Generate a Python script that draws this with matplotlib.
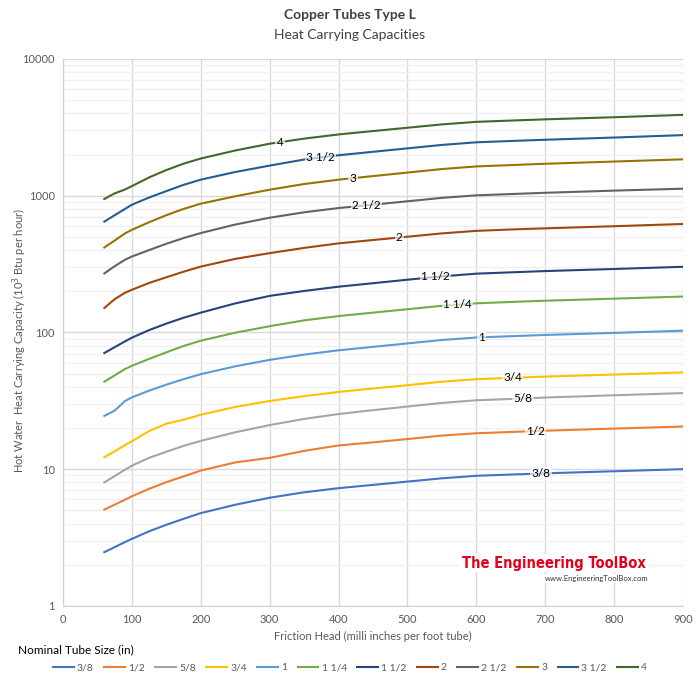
import numpy as np
import matplotlib
matplotlib.use("Agg")
import matplotlib.pyplot as plt
from matplotlib.ticker import FixedLocator, NullFormatter

plt.rcParams["font.family"] = ["Lato", "DejaVu Sans"]

# friction head (milli inches per foot tube)
head = [60, 75, 90, 100, 125, 150, 175, 200, 250, 300, 350, 400, 450, 500,
        550, 600, 650, 700, 800, 900]

# heat carrying capacity (10^3 Btu/h)
cap_3_8 = [2.47, 2.69, 2.93, 3.09, 3.51, 3.92, 4.33, 4.77, 5.49, 6.18, 6.77,
           7.26, 7.67, 8.11, 8.57, 8.94, 9.13, 9.32, 9.65, 10.0]
cap_1_2 = [5.06, 5.50, 5.98, 6.33, 7.18, 8.03, 8.85, 9.76, 11.2, 12.1, 13.6,
           14.9, 15.7, 16.6, 17.6, 18.3, 18.7, 19.1, 19.8, 20.5]
cap_5_8 = [8.0, 8.9, 9.9, 10.6, 12.1, 13.4, 14.8, 16.1, 18.6, 21.0, 23.3,
           25.3, 27.0, 28.7, 30.5, 31.9, 32.6, 33.4, 34.7, 36.0]
cap_3_4 = [12.2, 13.5, 15.0, 16.0, 19.0, 21.5, 23.0, 25.0, 28.5, 31.5, 34.2,
           36.7, 38.9, 41.1, 43.6, 45.5, 46.5, 47.5, 49.2, 51.0]
cap_1 = [24.5, 26.8, 31.5, 33.5, 37.5, 41.5, 45.5, 49.5, 56.5, 63.0, 68.8,
         74.0, 78.4, 83.1, 88.0, 91.8, 93.8, 95.8, 99.2, 103.0]
cap_1_14 = [43.6, 48.5, 54.0, 57.0, 64.0, 71.5, 79.5, 87.0, 99.5, 111.0, 122.5,
            131.7, 139.5, 147.8, 156.5, 163.3, 167.0, 170.5, 176.6, 183.0]
cap_1_12 = [70.7, 78.0, 86.0, 91.5, 104.0, 116.0, 128.0, 139.5, 163.0, 185.0,
            201.0, 216.0, 229.0, 243.0, 257.0, 269.0, 275.0, 281.0, 291.0, 302.0]
cap_2 = [151, 175, 195, 205, 230, 253, 278, 303, 345, 380, 415, 448, 474, 501,
         530, 553, 566, 577, 598, 621]
cap_2_12 = [270, 305, 340, 359, 400, 445, 490, 533, 615, 690, 756, 812, 860,
            910, 964, 1006, 1028, 1050, 1089, 1125]
cap_3 = [418, 470, 530, 563, 640, 720, 800, 874, 990, 1106, 1217, 1310, 1391,
         1476, 1566, 1637, 1674, 1712, 1777, 1845]
cap_3_12 = [646, 720, 800, 859, 970, 1080, 1200, 1310, 1490, 1660, 1838, 1976,
            2094, 2219, 2351, 2457, 2512, 2565, 2662, 2774]
cap_4 = [946, 1040, 1110, 1175, 1360, 1540, 1715, 1870, 2140, 2400, 2614,
         2805, 2969, 3140, 3322, 3467, 3543, 3617, 3747, 3900]

sizes = ["3/8", "1/2", "5/8", "3/4", "1", "1 1/4", "1 1/2", "2", "2 1/2", "3",
         "3 1/2", "4"]
series = [cap_3_8, cap_1_2, cap_5_8, cap_3_4, cap_1, cap_1_14, cap_1_12, cap_2,
          cap_2_12, cap_3, cap_3_12, cap_4]
colors = ["#4472C4", "#ED7D31", "#A5A5A5", "#FFC000", "#5B9BD5", "#70AD47",
          "#264478", "#9E480E", "#636363", "#997300", "#255E91", "#43682B"]
# head at which the in-line size label sits
label_at = [694, 686, 668, 653, 608, 573, 541, 488, 440, 421, 374, 315]

fig = plt.figure(figsize=(7.0, 6.8), dpi=100)
ax = fig.add_axes([0.09, 0.109, 0.8857, 0.8043])

for name, vals, c, xl in zip(sizes, series, colors, label_at):
    ax.plot(head, vals, color=c, lw=1.5, label=name, zorder=3)
    yl = 10 ** np.interp(xl, head, np.log10(vals))
    ax.text(xl, yl, name, fontsize=8.5, color="black", ha="center",
            va="center", zorder=4,
            bbox=dict(facecolor="white", edgecolor="none", alpha=0.65,
                      boxstyle="square,pad=0.1"))

ax.set_yscale("log")
ax.set_ylim(1, 10000)
ax.set_xlim(0, 900)
ax.set_xticks(range(0, 901, 100))
ax.yaxis.set_major_locator(FixedLocator([1, 10, 100, 1000, 10000]))
ax.set_yticklabels(["1", "10", "100", "1000", "10000"])
ax.yaxis.set_minor_locator(FixedLocator(
    [m * 10 ** e for e in range(4) for m in range(2, 10)]))
ax.yaxis.set_minor_formatter(NullFormatter())
ax.tick_params(which="both", length=0, labelsize=8, colors="#595959", pad=6)
ax.grid(which="major", axis="both", color="#d9d9d9", lw=1.0, zorder=0)
ax.grid(which="minor", axis="y", color="#f0f0f0", lw=1.0, zorder=0)
for s in ["top", "right"]:
    ax.spines[s].set_visible(False)
for s in ["left", "bottom"]:
    ax.spines[s].set_color("#d0d0d0")

ax.set_xlabel("Friction Head (milli inches per foot tube)", fontsize=8,
              color="#595959", labelpad=4)
fig.text(0.029, 0.5, "Hot Water  Heat Carrying Capacity (10$^3$ Btu per hour)",
         fontsize=8, color="#595959", rotation=90, ha="center", va="center")

fig.text(0.5, 0.978, "Copper Tubes Type L", ha="center", va="center",
         fontsize=10, fontweight="bold", color="#404040")
fig.text(0.5, 0.949, "Heat Carrying Capacities", ha="center", va="center",
         fontsize=10, color="#404040")

# logo
ax.text(0.643, 0.078, "The Engineering ToolBox", transform=ax.transAxes,
        fontsize=10.5, fontweight="bold", color="#e3001b", ha="left",
        va="center", family="DejaVu Sans", fontstretch="condensed",
        zorder=5, bbox=dict(facecolor="white", edgecolor="none", pad=1))
ax.text(0.778, 0.05, "www.EngineeringToolBox.com", transform=ax.transAxes,
        fontsize=5.5, color="#333333", ha="left", va="center", zorder=5,
        bbox=dict(facecolor="white", edgecolor="none", pad=0.5))

fig.text(0.026, 0.044, "Nominal Tube Size (in)", fontsize=8.5,
         color="black", ha="left", va="center")
fig.legend(loc="center", bbox_to_anchor=(0.5, 0.018), ncol=12, frameon=False,
           fontsize=7.5, handlelength=2.0, handletextpad=0.3,
           columnspacing=1.0, labelcolor="#595959")

fig.savefig("out.png", dpi=100)
